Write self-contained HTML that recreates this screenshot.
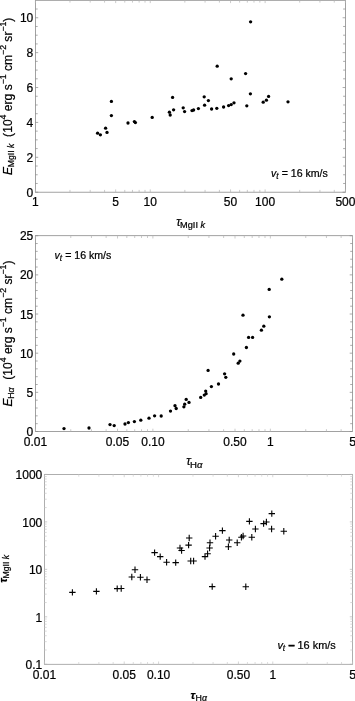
<!DOCTYPE html>
<html><head><meta charset="utf-8"><title>plots</title>
<style>html,body{margin:0;padding:0;background:#fff}svg{display:block}text{font-family:"Liberation Sans",sans-serif;fill:#000;stroke:#000;stroke-width:0.22px}</style>
</head><body>
<svg width="355" height="701" viewBox="0 0 355 701">
<rect width="355" height="701" fill="#fff"/>
<rect x="35.4" y="0.3" width="310.00" height="191.90" fill="none" stroke="#8a8a8a" stroke-width="0.8"/>
<path d="M35.40 192.2v-2.8M35.40 0.3v2.8M115.68 192.2v-2.8M115.68 0.3v2.8M150.26 192.2v-2.8M150.26 0.3v2.8M230.54 192.2v-2.8M230.54 0.3v2.8M265.12 192.2v-2.8M265.12 0.3v2.8M345.40 192.2v-2.8M345.40 0.3v2.8" stroke="#b4b4b4" stroke-width="0.7" fill="none"/>
<path d="M69.98 192.2v-2.3M69.98 0.3v2.3M90.20 192.2v-2.3M90.20 0.3v2.3M104.55 192.2v-2.3M104.55 0.3v2.3M124.78 192.2v-2.3M124.78 0.3v2.3M132.47 192.2v-2.3M132.47 0.3v2.3M139.13 192.2v-2.3M139.13 0.3v2.3M145.00 192.2v-2.3M145.00 0.3v2.3M184.83 192.2v-2.3M184.83 0.3v2.3M205.06 192.2v-2.3M205.06 0.3v2.3M219.41 192.2v-2.3M219.41 0.3v2.3M239.64 192.2v-2.3M239.64 0.3v2.3M247.33 192.2v-2.3M247.33 0.3v2.3M253.99 192.2v-2.3M253.99 0.3v2.3M259.86 192.2v-2.3M259.86 0.3v2.3M299.69 192.2v-2.3M299.69 0.3v2.3M319.92 192.2v-2.3M319.92 0.3v2.3M334.27 192.2v-2.3M334.27 0.3v2.3" stroke="#b4b4b4" stroke-width="0.7" fill="none"/>
<path d="M35.4 192.20h2.8M345.4 192.20h-2.8M35.4 157.31h2.8M345.4 157.31h-2.8M35.4 122.42h2.8M345.4 122.42h-2.8M35.4 87.53h2.8M345.4 87.53h-2.8M35.4 52.64h2.8M345.4 52.64h-2.8M35.4 17.75h2.8M345.4 17.75h-2.8" stroke="#8a8a8a" stroke-width="0.7" fill="none"/>
<path d="M35.4 183.48h2.3M345.4 183.48h-2.3M35.4 174.75h2.3M345.4 174.75h-2.3M35.4 166.03h2.3M345.4 166.03h-2.3M35.4 148.59h2.3M345.4 148.59h-2.3M35.4 139.86h2.3M345.4 139.86h-2.3M35.4 131.14h2.3M345.4 131.14h-2.3M35.4 113.70h2.3M345.4 113.70h-2.3M35.4 104.97h2.3M345.4 104.97h-2.3M35.4 96.25h2.3M345.4 96.25h-2.3M35.4 78.80h2.3M345.4 78.80h-2.3M35.4 70.08h2.3M345.4 70.08h-2.3M35.4 61.36h2.3M345.4 61.36h-2.3M35.4 43.91h2.3M345.4 43.91h-2.3M35.4 35.19h2.3M345.4 35.19h-2.3M35.4 26.47h2.3M345.4 26.47h-2.3M35.4 9.02h2.3M345.4 9.02h-2.3" stroke="#8a8a8a" stroke-width="0.7" fill="none"/>
<text x="35.40" y="206.30" font-size="12" text-anchor="middle" >1</text>
<text x="115.68" y="206.30" font-size="12" text-anchor="middle" >5</text>
<text x="150.26" y="206.30" font-size="12" text-anchor="middle" >10</text>
<text x="230.54" y="206.30" font-size="12" text-anchor="middle" >50</text>
<text x="265.12" y="206.30" font-size="12" text-anchor="middle" >100</text>
<text x="345.40" y="206.30" font-size="12" text-anchor="middle" >500</text>
<text x="33.30" y="196.80" font-size="12" text-anchor="end" >0</text>
<text x="33.30" y="161.91" font-size="12" text-anchor="end" >2</text>
<text x="33.30" y="127.02" font-size="12" text-anchor="end" >4</text>
<text x="33.30" y="92.13" font-size="12" text-anchor="end" >6</text>
<text x="33.30" y="57.24" font-size="12" text-anchor="end" >8</text>
<text x="33.30" y="22.35" font-size="12" text-anchor="end" >10</text>
<circle cx="111.4" cy="101.4" r="1.65"/>
<circle cx="111.4" cy="115.6" r="1.65"/>
<circle cx="105.6" cy="128.2" r="1.65"/>
<circle cx="107" cy="132.4" r="1.65"/>
<circle cx="97.6" cy="133.2" r="1.65"/>
<circle cx="100.4" cy="134.8" r="1.65"/>
<circle cx="128" cy="123" r="1.65"/>
<circle cx="134.4" cy="121.6" r="1.65"/>
<circle cx="135.4" cy="122.6" r="1.65"/>
<circle cx="152.2" cy="117.4" r="1.65"/>
<circle cx="172.6" cy="97.4" r="1.65"/>
<circle cx="173.6" cy="109.8" r="1.65"/>
<circle cx="169.4" cy="112.2" r="1.65"/>
<circle cx="170.2" cy="115" r="1.65"/>
<circle cx="183.2" cy="107.8" r="1.65"/>
<circle cx="184.6" cy="111.6" r="1.65"/>
<circle cx="192" cy="110.6" r="1.65"/>
<circle cx="193.6" cy="110" r="1.65"/>
<circle cx="198.4" cy="108.6" r="1.65"/>
<circle cx="204.2" cy="96.8" r="1.65"/>
<circle cx="204.6" cy="105.2" r="1.65"/>
<circle cx="208.4" cy="100.6" r="1.65"/>
<circle cx="211.6" cy="109" r="1.65"/>
<circle cx="216.8" cy="108.3" r="1.65"/>
<circle cx="223.6" cy="107" r="1.65"/>
<circle cx="250.6" cy="21.8" r="1.65"/>
<circle cx="217.2" cy="66.2" r="1.65"/>
<circle cx="231.2" cy="78.8" r="1.65"/>
<circle cx="245.6" cy="73.6" r="1.65"/>
<circle cx="250.4" cy="93.8" r="1.65"/>
<circle cx="228.6" cy="105.6" r="1.65"/>
<circle cx="231.2" cy="104.6" r="1.65"/>
<circle cx="234" cy="102.8" r="1.65"/>
<circle cx="246.8" cy="105.8" r="1.65"/>
<circle cx="263.2" cy="102.2" r="1.65"/>
<circle cx="266.4" cy="100.2" r="1.65"/>
<circle cx="268.6" cy="96.4" r="1.65"/>
<circle cx="288" cy="101.8" r="1.65"/>
<text transform="translate(271,177.2)" font-size="12.1" xml:space="preserve"><tspan font-size="10.6" font-style="italic">v</tspan><tspan dy="1.90" font-size="8.2" font-style="italic">t</tspan><tspan dy="-1.90" font-size="5.512">  </tspan><tspan font-size="10.6">=</tspan><tspan font-size="10.6"> 16 km/s</tspan></text>
<text transform="translate(11.6,96.3) rotate(-90)" font-size="12.1" text-anchor="middle" xml:space="preserve"><tspan font-size="12.1" font-style="italic">E</tspan><tspan dx="-0.4" dy="2.60" font-size="8.7">MgII </tspan><tspan font-size="8.7" font-style="italic">k</tspan><tspan dy="-2.60" font-size="12.1">  </tspan><tspan font-size="12.1">(10</tspan><tspan dy="-5.20" font-size="8.7">4</tspan><tspan dy="5.20" font-size="12.1"> erg s</tspan><tspan dy="-5.20" font-size="8.7">−1</tspan><tspan dy="5.20" font-size="12.1"> cm</tspan><tspan dy="-5.20" font-size="8.7">−2</tspan><tspan dy="5.20" font-size="12.1"> sr</tspan><tspan dy="-5.20" font-size="8.7">−1</tspan><tspan dy="5.20" font-size="12.1">)</tspan></text>
<text transform="translate(190.6,225.7)" font-size="12.1" text-anchor="middle" xml:space="preserve"><tspan font-size="12.1" font-style="italic">τ</tspan><tspan dx="-0.6" dy="2.60" font-size="9.2">MgII </tspan><tspan font-size="9.2" font-style="italic">k</tspan></text>
<rect x="35.4" y="235.7" width="317.10" height="195.80" fill="none" stroke="#8a8a8a" stroke-width="0.8"/>
<path d="M35.40 431.5v-2.8M35.40 235.7v2.8M117.52 431.5v-2.8M117.52 235.7v2.8M152.89 431.5v-2.8M152.89 235.7v2.8M235.01 431.5v-2.8M235.01 235.7v2.8M270.38 431.5v-2.8M270.38 235.7v2.8M352.50 431.5v-2.8M352.50 235.7v2.8" stroke="#b4b4b4" stroke-width="0.7" fill="none"/>
<path d="M70.77 431.5v-2.3M70.77 235.7v2.3M91.46 431.5v-2.3M91.46 235.7v2.3M106.14 431.5v-2.3M106.14 235.7v2.3M126.82 431.5v-2.3M126.82 235.7v2.3M134.69 431.5v-2.3M134.69 235.7v2.3M141.50 431.5v-2.3M141.50 235.7v2.3M147.51 431.5v-2.3M147.51 235.7v2.3M188.26 431.5v-2.3M188.26 235.7v2.3M208.95 431.5v-2.3M208.95 235.7v2.3M223.62 431.5v-2.3M223.62 235.7v2.3M244.31 431.5v-2.3M244.31 235.7v2.3M252.18 431.5v-2.3M252.18 235.7v2.3M258.99 431.5v-2.3M258.99 235.7v2.3M265.00 431.5v-2.3M265.00 235.7v2.3M305.75 431.5v-2.3M305.75 235.7v2.3M326.44 431.5v-2.3M326.44 235.7v2.3M341.11 431.5v-2.3M341.11 235.7v2.3" stroke="#b4b4b4" stroke-width="0.7" fill="none"/>
<path d="M35.4 431.50h2.8M352.5 431.50h-2.8M35.4 392.34h2.8M352.5 392.34h-2.8M35.4 353.18h2.8M352.5 353.18h-2.8M35.4 314.02h2.8M352.5 314.02h-2.8M35.4 274.86h2.8M352.5 274.86h-2.8M35.4 235.70h2.8M352.5 235.70h-2.8" stroke="#8a8a8a" stroke-width="0.7" fill="none"/>
<path d="M35.4 423.67h2.3M352.5 423.67h-2.3M35.4 415.84h2.3M352.5 415.84h-2.3M35.4 408.00h2.3M352.5 408.00h-2.3M35.4 400.17h2.3M352.5 400.17h-2.3M35.4 384.51h2.3M352.5 384.51h-2.3M35.4 376.68h2.3M352.5 376.68h-2.3M35.4 368.84h2.3M352.5 368.84h-2.3M35.4 361.01h2.3M352.5 361.01h-2.3M35.4 345.35h2.3M352.5 345.35h-2.3M35.4 337.52h2.3M352.5 337.52h-2.3M35.4 329.68h2.3M352.5 329.68h-2.3M35.4 321.85h2.3M352.5 321.85h-2.3M35.4 306.19h2.3M352.5 306.19h-2.3M35.4 298.36h2.3M352.5 298.36h-2.3M35.4 290.52h2.3M352.5 290.52h-2.3M35.4 282.69h2.3M352.5 282.69h-2.3M35.4 267.03h2.3M352.5 267.03h-2.3M35.4 259.20h2.3M352.5 259.20h-2.3M35.4 251.36h2.3M352.5 251.36h-2.3M35.4 243.53h2.3M352.5 243.53h-2.3" stroke="#8a8a8a" stroke-width="0.7" fill="none"/>
<text x="35.40" y="445.50" font-size="12" text-anchor="middle" >0.01</text>
<text x="117.52" y="445.50" font-size="12" text-anchor="middle" >0.05</text>
<text x="152.89" y="445.50" font-size="12" text-anchor="middle" >0.10</text>
<text x="235.01" y="445.50" font-size="12" text-anchor="middle" >0.50</text>
<text x="270.38" y="445.50" font-size="12" text-anchor="middle" >1</text>
<text x="352.50" y="445.50" font-size="12" text-anchor="middle" >5</text>
<text x="33.30" y="436.10" font-size="12" text-anchor="end" >0</text>
<text x="33.30" y="396.94" font-size="12" text-anchor="end" >5</text>
<text x="33.30" y="357.78" font-size="12" text-anchor="end" >10</text>
<text x="33.30" y="318.62" font-size="12" text-anchor="end" >15</text>
<text x="33.30" y="279.46" font-size="12" text-anchor="end" >20</text>
<text x="33.30" y="240.30" font-size="12" text-anchor="end" >25</text>
<circle cx="64" cy="428.6" r="1.65"/>
<circle cx="89" cy="428" r="1.65"/>
<circle cx="110" cy="424.6" r="1.65"/>
<circle cx="114.2" cy="425.6" r="1.65"/>
<circle cx="125" cy="424" r="1.65"/>
<circle cx="128.4" cy="422.6" r="1.65"/>
<circle cx="134.4" cy="421.6" r="1.65"/>
<circle cx="140.8" cy="420.2" r="1.65"/>
<circle cx="149" cy="418.2" r="1.65"/>
<circle cx="154.6" cy="415.8" r="1.65"/>
<circle cx="161.2" cy="416" r="1.65"/>
<circle cx="170.5" cy="411.1" r="1.65"/>
<circle cx="175" cy="405.7" r="1.65"/>
<circle cx="176.2" cy="408.5" r="1.65"/>
<circle cx="183.9" cy="406.8" r="1.65"/>
<circle cx="184.7" cy="404.2" r="1.65"/>
<circle cx="186.2" cy="399.4" r="1.65"/>
<circle cx="189" cy="402.4" r="1.65"/>
<circle cx="200.7" cy="397.4" r="1.65"/>
<circle cx="204.3" cy="395.1" r="1.65"/>
<circle cx="206.1" cy="393.7" r="1.65"/>
<circle cx="205.7" cy="391.1" r="1.65"/>
<circle cx="211.4" cy="386.6" r="1.65"/>
<circle cx="208.1" cy="370.4" r="1.65"/>
<circle cx="218.5" cy="384" r="1.65"/>
<circle cx="224.6" cy="373.8" r="1.65"/>
<circle cx="225.8" cy="377.3" r="1.65"/>
<circle cx="233.7" cy="354" r="1.65"/>
<circle cx="281.8" cy="279.2" r="1.65"/>
<circle cx="269.2" cy="289.4" r="1.65"/>
<circle cx="243" cy="315.2" r="1.65"/>
<circle cx="269.4" cy="316.8" r="1.65"/>
<circle cx="263.8" cy="326.2" r="1.65"/>
<circle cx="261.4" cy="330.2" r="1.65"/>
<circle cx="248.6" cy="337.4" r="1.65"/>
<circle cx="252.6" cy="337.4" r="1.65"/>
<circle cx="246.4" cy="347.5" r="1.65"/>
<circle cx="239.9" cy="361.1" r="1.65"/>
<circle cx="238.2" cy="363.2" r="1.65"/>
<text transform="translate(54.5,259.4)" font-size="12.1" xml:space="preserve"><tspan font-size="10.6" font-style="italic">v</tspan><tspan dy="1.90" font-size="8.2" font-style="italic">t</tspan><tspan dy="-1.90" font-size="5.512">  </tspan><tspan font-size="10.6">=</tspan><tspan font-size="10.6"> 16 km/s</tspan></text>
<text transform="translate(11.6,333.5) rotate(-90)" font-size="12.1" text-anchor="middle" xml:space="preserve"><tspan font-size="12.1" font-style="italic">E</tspan><tspan dx="-0.4" dy="2.60" font-size="8.7">H</tspan><tspan font-size="8.7" font-style="italic">α</tspan><tspan dy="-2.60" font-size="13.9">  </tspan><tspan font-size="12.1">(10</tspan><tspan dy="-5.20" font-size="8.7">4</tspan><tspan dy="5.20" font-size="12.1"> erg s</tspan><tspan dy="-5.20" font-size="8.7">−1</tspan><tspan dy="5.20" font-size="12.1"> cm</tspan><tspan dy="-5.20" font-size="8.7">−2</tspan><tspan dy="5.20" font-size="12.1"> sr</tspan><tspan dy="-5.20" font-size="8.7">−1</tspan><tspan dy="5.20" font-size="12.1">)</tspan></text>
<text transform="translate(194.3,465.2)" font-size="12.1" text-anchor="middle" xml:space="preserve"><tspan font-size="12.1" font-style="italic">τ</tspan><tspan dx="-0.6" dy="2.60" font-size="9.6">H</tspan><tspan font-size="9.6" font-style="italic">α</tspan></text>
<rect x="44.4" y="474.4" width="308.20" height="189.90" fill="none" stroke="#9a9a9a" stroke-width="0.8"/>
<path d="M44.40 664.3v-2.8M44.40 474.4v2.8M124.22 664.3v-2.8M124.22 474.4v2.8M158.59 664.3v-2.8M158.59 474.4v2.8M238.41 664.3v-2.8M238.41 474.4v2.8M272.78 664.3v-2.8M272.78 474.4v2.8M352.60 664.3v-2.8M352.60 474.4v2.8" stroke="#c4c4c4" stroke-width="0.7" fill="none"/>
<path d="M78.78 664.3v-2.3M78.78 474.4v2.3M98.88 664.3v-2.3M98.88 474.4v2.3M113.15 664.3v-2.3M113.15 474.4v2.3M133.26 664.3v-2.3M133.26 474.4v2.3M140.90 664.3v-2.3M140.90 474.4v2.3M147.53 664.3v-2.3M147.53 474.4v2.3M153.37 664.3v-2.3M153.37 474.4v2.3M192.97 664.3v-2.3M192.97 474.4v2.3M213.08 664.3v-2.3M213.08 474.4v2.3M227.34 664.3v-2.3M227.34 474.4v2.3M247.45 664.3v-2.3M247.45 474.4v2.3M255.09 664.3v-2.3M255.09 474.4v2.3M261.72 664.3v-2.3M261.72 474.4v2.3M267.56 664.3v-2.3M267.56 474.4v2.3M307.16 664.3v-2.3M307.16 474.4v2.3M327.27 664.3v-2.3M327.27 474.4v2.3M341.53 664.3v-2.3M341.53 474.4v2.3" stroke="#cfcfcf" stroke-width="0.7" fill="none"/>
<path d="M44.4 664.30h2.8M352.6 664.30h-2.8M44.4 616.82h2.8M352.6 616.82h-2.8M44.4 569.35h2.8M352.6 569.35h-2.8M44.4 521.88h2.8M352.6 521.88h-2.8M44.4 474.40h2.8M352.6 474.40h-2.8" stroke="#b4b4b4" stroke-width="0.7" fill="none"/>
<path d="M44.4 650.01h2.3M352.6 650.01h-2.3M44.4 641.65h2.3M352.6 641.65h-2.3M44.4 635.72h2.3M352.6 635.72h-2.3M44.4 631.12h2.3M352.6 631.12h-2.3M44.4 627.36h2.3M352.6 627.36h-2.3M44.4 624.18h2.3M352.6 624.18h-2.3M44.4 621.43h2.3M352.6 621.43h-2.3M44.4 619.00h2.3M352.6 619.00h-2.3M44.4 602.53h2.3M352.6 602.53h-2.3M44.4 594.17h2.3M352.6 594.17h-2.3M44.4 588.24h2.3M352.6 588.24h-2.3M44.4 583.64h2.3M352.6 583.64h-2.3M44.4 579.88h2.3M352.6 579.88h-2.3M44.4 576.70h2.3M352.6 576.70h-2.3M44.4 573.95h2.3M352.6 573.95h-2.3M44.4 571.52h2.3M352.6 571.52h-2.3M44.4 555.06h2.3M352.6 555.06h-2.3M44.4 546.70h2.3M352.6 546.70h-2.3M44.4 540.77h2.3M352.6 540.77h-2.3M44.4 536.17h2.3M352.6 536.17h-2.3M44.4 532.41h2.3M352.6 532.41h-2.3M44.4 529.23h2.3M352.6 529.23h-2.3M44.4 526.48h2.3M352.6 526.48h-2.3M44.4 524.05h2.3M352.6 524.05h-2.3M44.4 507.58h2.3M352.6 507.58h-2.3M44.4 499.22h2.3M352.6 499.22h-2.3M44.4 493.29h2.3M352.6 493.29h-2.3M44.4 488.69h2.3M352.6 488.69h-2.3M44.4 484.93h2.3M352.6 484.93h-2.3M44.4 481.75h2.3M352.6 481.75h-2.3M44.4 479.00h2.3M352.6 479.00h-2.3M44.4 476.57h2.3M352.6 476.57h-2.3" stroke="#c8c8c8" stroke-width="0.7" fill="none"/>
<text x="44.40" y="678.60" font-size="12" text-anchor="middle" >0.01</text>
<text x="124.22" y="678.60" font-size="12" text-anchor="middle" >0.05</text>
<text x="158.59" y="678.60" font-size="12" text-anchor="middle" >0.10</text>
<text x="238.41" y="678.60" font-size="12" text-anchor="middle" >0.50</text>
<text x="272.78" y="678.60" font-size="12" text-anchor="middle" >1</text>
<text x="352.60" y="678.60" font-size="12" text-anchor="middle" >5</text>
<text x="42.30" y="669.10" font-size="12" text-anchor="end" >0.1</text>
<text x="42.30" y="621.62" font-size="12" text-anchor="end" >1</text>
<text x="42.30" y="574.15" font-size="12" text-anchor="end" >10</text>
<text x="42.30" y="526.67" font-size="12" text-anchor="end" >100</text>
<text x="42.30" y="479.20" font-size="12" text-anchor="end" >1000</text>
<path d="M69.2 592.4h6.4M72.4 589.2v6.4M93.2 591.4h6.4M96.4 588.2v6.4M114.0 588.6h6.4M117.2 585.4v6.4M118.0 588.5h6.4M121.2 585.3v6.4M128.6 577h6.4M131.8 573.8v6.4M131.8 569.8h6.4M135 566.6v6.4M137.2 577.2h6.4M140.4 574.0v6.4M143.8 579.8h6.4M147 576.6v6.4M151.4 552.6h6.4M154.6 549.4v6.4M157.0 556.6h6.4M160.2 553.4v6.4M163.4 562.2h6.4M166.6 559.0v6.4M172.5 562.6h6.4M175.7 559.4v6.4M176.8 548h6.4M180 544.8v6.4M178.4 550.5h6.4M181.6 547.3v6.4M186.0 538h6.4M189.2 534.8v6.4M185.4 545.1h6.4M188.6 541.9v6.4M187.5 561h6.4M190.7 557.8v6.4M190.4 561h6.4M193.6 557.8v6.4M201.8 556.6h6.4M205 553.4v6.4M204.4 553.8h6.4M207.6 550.6v6.4M206.4 548h6.4M209.6 544.8v6.4M206.8 542.8h6.4M210 539.6v6.4M212.4 536.2h6.4M215.6 533.0v6.4M219.2 530.6h6.4M222.4 527.4v6.4M209.0 586.6h6.4M212.2 583.4v6.4M225.2 546.8h6.4M228.4 543.6v6.4M226.0 540h6.4M229.2 536.8v6.4M234.0 542.7h6.4M237.2 539.5v6.4M238.2 537.2h6.4M241.4 534.0v6.4M239.9 536h6.4M243.1 532.8v6.4M242.6 586.7h6.4M245.8 583.5v6.4M248.6 537.2h6.4M251.8 534.0v6.4M246.2 521.4h6.4M249.4 518.2v6.4M252.2 529h6.4M255.4 525.8v6.4M260.4 523.6h6.4M263.6 520.4v6.4M263.2 522h6.4M266.4 518.8v6.4M268.6 513.6h6.4M271.8 510.4v6.4M268.4 529h6.4M271.6 525.8v6.4M280.6 531.2h6.4M283.8 528.0v6.4" stroke="#000" stroke-width="1.1" fill="none"/>
<text transform="translate(277.4,649.2)" font-size="12.1" xml:space="preserve"><tspan font-size="10.95" font-style="italic">v</tspan><tspan dy="1.90" font-size="8.470754716981132" font-style="italic">t</tspan><tspan dy="-1.90" font-size="5.694">  </tspan><tspan font-size="10.95" font-weight="bold" style="stroke-width:0.7px">–</tspan><tspan font-size="10.95"> 16 km/s</tspan></text>
<text transform="translate(6.8,568.8) rotate(-90)" font-size="12.1" text-anchor="middle" xml:space="preserve"><tspan font-size="11" font-weight="bold" font-style="italic">τ</tspan><tspan dx="-0.4" dy="2.60" font-size="8.7">MgII </tspan><tspan font-size="8.7" font-style="italic">k</tspan></text>
<text transform="translate(198.8,698.6)" font-size="12.1" text-anchor="middle" xml:space="preserve"><tspan font-size="11.5" font-weight="bold" font-style="italic">τ</tspan><tspan dx="0.3" dy="2.60" font-size="8.8">H</tspan><tspan font-size="8.8" font-style="italic">α</tspan></text>
</svg>
</body></html>
